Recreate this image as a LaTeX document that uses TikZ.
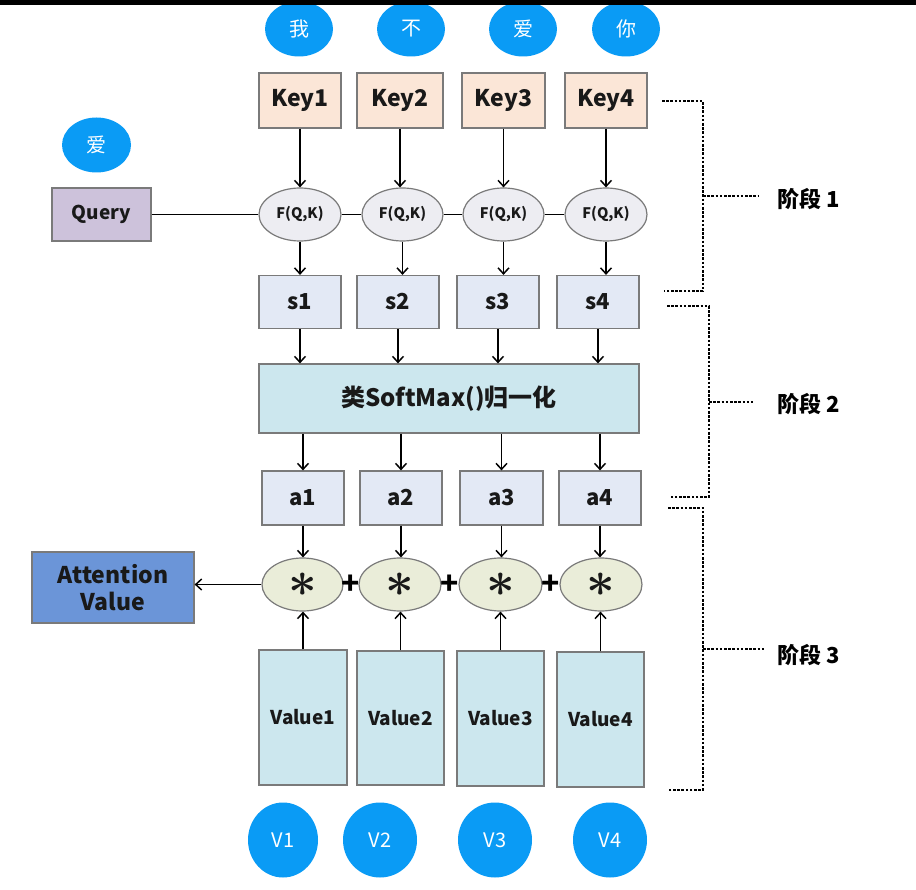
\documentclass[tikz,border=0pt]{standalone}
\usepackage{fontspec}
\setmainfont{Noto Sans CJK SC}
\usetikzlibrary{arrows.meta,shapes.geometric,calc}
\definecolor{cblue}{HTML}{0A9BF5}
\definecolor{keyfill}{HTML}{FBE6D7}
\definecolor{qfill}{HTML}{CDC2DB}
\definecolor{ffill}{HTML}{EDEDF2}
\definecolor{sfill}{HTML}{E3E9F5}
\definecolor{cyanfill}{HTML}{CCE7EE}
\definecolor{efill}{HTML}{EAEDD9}
\definecolor{attfill}{HTML}{6B95D8}
\definecolor{bgray}{HTML}{7A7A7A}
\begin{document}
\begin{tikzpicture}[x=1pt,y=-1pt,
  bx/.style={draw=bgray, line width=1.2pt, inner sep=0pt, text=black!90, font=\bfseries\fontsize{22}{24}\selectfont},
  keybox/.style={bx, rectangle, fill=keyfill, minimum width=82pt, minimum height=55pt, font=\bfseries\fontsize{23}{25}\selectfont},
  sbox/.style={bx, rectangle, fill=sfill, minimum width=82pt, minimum height=53pt},
  fell/.style={bx, ellipse, fill=ffill, minimum width=82pt, minimum height=53pt, font=\bfseries\fontsize{14.5}{16}\selectfont},
  mell/.style={bx, ellipse, fill=efill, minimum width=82pt, minimum height=53pt},
  valbox/.style={bx, rectangle, fill=cyanfill, minimum width=87pt, minimum height=135pt, font=\bfseries\fontsize{19}{21}\selectfont},
  bcirc/.style={ellipse, fill=cblue, inner sep=0pt, text=white, font=\fontsize{20}{22}\selectfont},
  plusn/.style={inner sep=0pt, font=\bfseries\fontsize{30}{30}\selectfont},
  arr/.style={line width=1.5pt, -{Straight Barb[length=6pt,width=11pt,line width=1.5pt]}},
  ln/.style={line width=1.5pt},
  dotl/.style={line width=1.8pt, dash pattern=on 2.6pt off 1.6pt},
  stage/.style={inner sep=0pt, font=\bfseries\fontsize{22}{24}\selectfont}
]
\newcommand{\mstar}{\raisebox{-0.2ex}{\scalebox{2.4}{\boldmath$\ast$}}}
\useasboundingbox (0,0) rectangle (916,890);
\fill[white] (0,0) rectangle (916,890);

% top word circles
\node[bcirc, minimum width=68pt, minimum height=55pt] (t1) at (299,29) {我};
\node[bcirc, minimum width=68pt, minimum height=55pt] (t2) at (411,29) {不};
\node[bcirc, minimum width=68pt, minimum height=55pt] (t3) at (523,29) {爱};
\node[bcirc, minimum width=68pt, minimum height=55pt] (t4) at (626,29) {你};
\fill[black] (0,0) rectangle (916,5);

% query word
\node[bcirc, minimum width=69pt, minimum height=55pt] (qw) at (96.5,145) {爱};

% keys
\node[keybox] (k1) at (300,100.5) {Key1};
\node[keybox, minimum width=86pt] (k2) at (400,100.5) {Key2};
\node[keybox, minimum width=83pt] (k3) at (503.5,100.5) {Key3};
\node[keybox] (k4) at (606,100.5) {Key4};

% query
\node[bx, rectangle, fill=qfill, minimum width=99pt, minimum height=53pt, font=\bfseries\fontsize{19}{21}\selectfont] (q) at (101.5,214.5) {Query};

% F(Q,K)
\node[fell] (f1) at (300,214.5) {F(Q,K)};
\node[fell, minimum width=81pt] (f2) at (402.5,214.5) {F(Q,K)};
\node[fell, minimum width=81pt] (f3) at (503.5,214.5) {F(Q,K)};
\node[fell] (f4) at (606,214.5) {F(Q,K)};

% s
\node[sbox] (s1) at (300,302) {s1};
\node[sbox] (s2) at (398,302) {s2};
\node[sbox] (s3) at (498,302) {s3};
\node[sbox] (s4) at (598,302) {s4};

% softmax
\node[bx, rectangle, fill=cyanfill, minimum width=380pt, minimum height=69pt, font=\bfseries\fontsize{24}{26}\selectfont] (sm) at (449,398.5) {类SoftMax()归一化};

% a
\node[sbox, minimum height=54pt] (a1) at (303,498) {a1};
\node[sbox, minimum height=54pt] (a2) at (401,498) {a2};
\node[sbox, minimum width=83pt, minimum height=54pt] (a3) at (501.5,498) {a3};
\node[sbox, minimum height=54pt] (a4) at (600,498) {a4};

% multiply ellipses
\node[mell, minimum width=81pt] (e1) at (302.5,584.5) {\mstar};
\node[mell] (e2) at (400,584.5) {\mstar};
\node[mell, minimum width=83pt] (e3) at (500.5,584.5) {\mstar};
\node[mell] (e4) at (601,584.5) {\mstar};
\node[plusn] (p1) at ($(e1.east)!0.5!(e2.west)$) {+};
\node[plusn] (p2) at ($(e2.east)!0.5!(e3.west)$) {+};
\node[plusn] (p3) at ($(e3.east)!0.5!(e4.west)$) {+};

% attention value
\node[bx, rectangle, fill=attfill, minimum width=162pt, minimum height=71pt, align=center, font=\bfseries\fontsize{23}{27}\selectfont] (att) at (113,587.5) {Attention\\Value};

% values
\node[valbox, minimum width=88pt] (v1) at (303,717.5) {Value1};
\node[valbox, minimum height=134pt] (v2) at (400.5,718) {Value2};
\node[valbox] (v3) at (500.5,718.5) {Value3};
\node[valbox] (v4) at (600.5,719.5) {Value4};

% V circles
\node[bcirc, minimum width=70pt, minimum height=75pt] (c1) at (283,840) {V1};
\node[bcirc, minimum width=74pt, minimum height=75pt] (c2) at (380,840) {V2};
\node[bcirc, minimum width=74pt, minimum height=75pt] (c3) at (495,840) {V3};
\node[bcirc, minimum width=74pt, minimum height=75pt] (c4) at (610,840) {V4};

% connectors
\foreach \i in {1,2,3,4} {
  \draw[arr] (k\i.south) -- (k\i.south |- f\i.north);
  \draw[arr] (f\i.south) -- (f\i.south |- s\i.north);
  \draw[arr] (s\i.south) -- (s\i.south |- sm.north);
  \draw[arr] (sm.south -| a\i.south) -- (a\i.north);
  \draw[arr] (a\i.south) -- (a\i.south |- e\i.north);
  \draw[arr] (v\i.north) -- (v\i.north |- e\i.south);
}
\draw[ln] (q.east) -- (f1.west);
\draw[ln] (f1.east) -- (f2.west);
\draw[ln] (f2.east) -- (f3.west);
\draw[ln] (f3.east) -- (f4.west);
\draw[arr] (e1.west) -- (e1.west -| att.east);

% stage brackets
\coordinate (b1a) at (662,101); \coordinate (b1b) at (703,101);
\coordinate (b1c) at (703,291); \coordinate (b1d) at (664,291);
\coordinate (b1m) at (703,196); \coordinate (b1e) at (758,196);
\draw[dotl] (b1a) -- (b1b) -- (b1c) -- (b1d);
\draw[dotl] (b1m) -- (b1e);
\node[stage, anchor=west] (st1) at (777,199) {阶段 1};

\coordinate (b2a) at (667,306); \coordinate (b2b) at (709,306);
\coordinate (b2c) at (709,497); \coordinate (b2d) at (670,497);
\coordinate (b2m) at (709,402); \coordinate (b2e) at (753,402);
\draw[dotl] (b2a) -- (b2b) -- (b2c) -- (b2d);
\draw[dotl] (b2m) -- (b2e);
\node[stage, anchor=west] (st2) at (777,404) {阶段 2};

\coordinate (b3a) at (668,508); \coordinate (b3b) at (703,508);
\coordinate (b3c) at (703,790); \coordinate (b3d) at (668,790);
\coordinate (b3m) at (703,649); \coordinate (b3e) at (764,649);
\draw[dotl] (b3a) -- (b3b) -- (b3c) -- (b3d);
\draw[dotl] (b3m) -- (b3e);
\node[stage, anchor=west] (st3) at (777,655) {阶段 3};
\end{tikzpicture}
\end{document}
